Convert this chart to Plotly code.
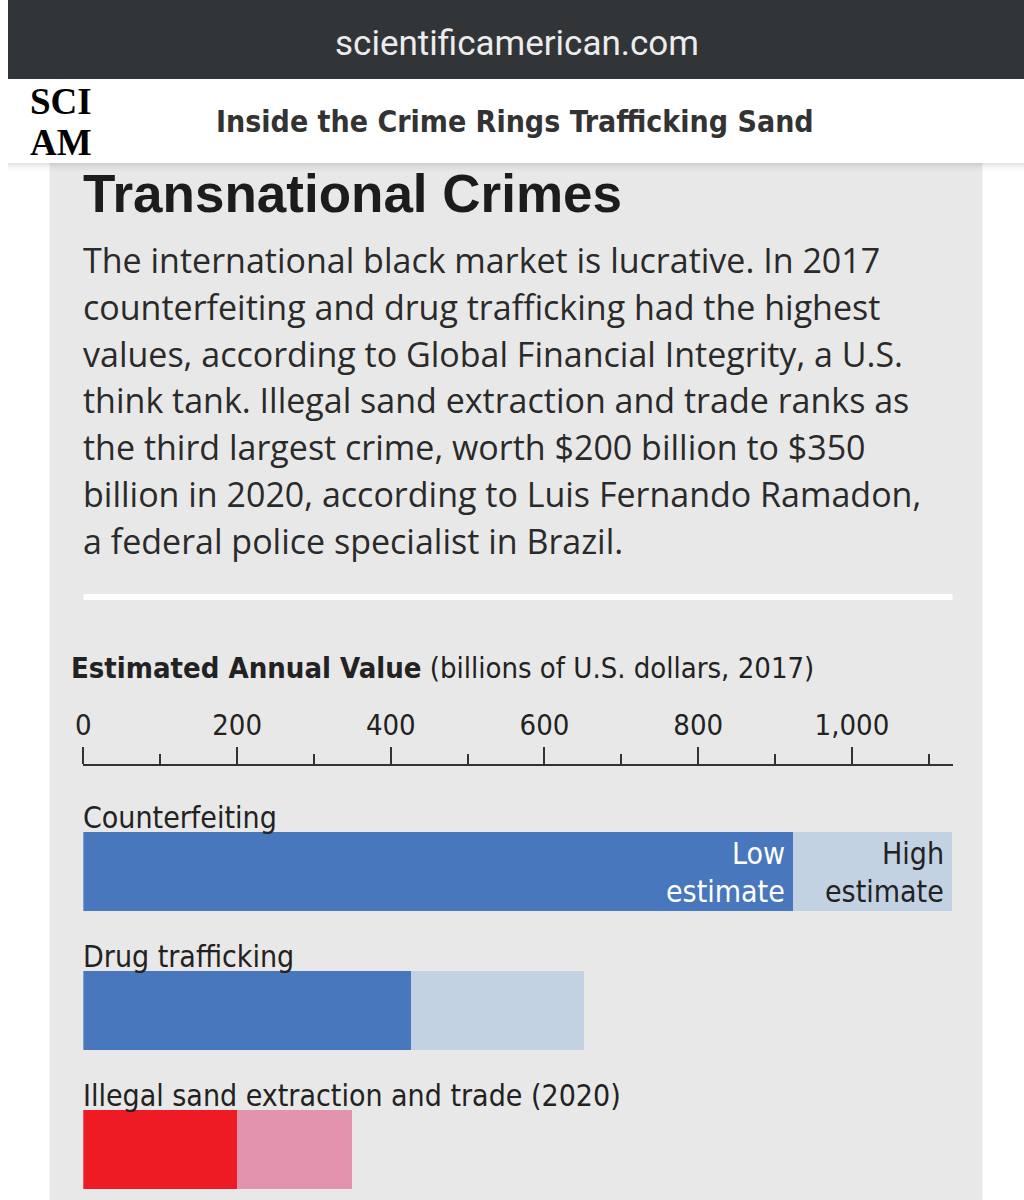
import plotly.graph_objects as go

# ---------------- data ----------------
categories = ["Counterfeiting", "Drug trafficking", "Illegal sand extraction and trade (2020)"]
low_values = [923, 426, 200]
high_values = [1130, 652, 350]
low_colors = ["#4877bd", "#4877bd", "#ee1b25"]
high_colors = ["#c2d2e3", "#c2d2e3", "#e294ae"]
tick_values = [0, 200, 400, 600, 800, 1000]

paragraph_lines = [
    "The international black market is lucrative. In 2017",
    "counterfeiting and drug trafficking had the highest",
    "values, according to Global Financial Integrity, a U.S.",
    "think tank. Illegal sand extraction and trade ranks as",
    "the third largest crime, worth $200 billion to $350",
    "billion in 2020, according to Luis Fernando Ramadon,",
    "a federal police specialist in Brazil.",
]

# ---------------- layout helpers ----------------
W, H = 1024, 1200
def px(x):
    return x / W
def py(y):
    return 1 - y / H

NARROW = "DejaVu Sans Condensed, Liberation Sans Narrow, sans-serif"
TEXT = "#222222"

fig = go.Figure()

# High estimate (full length) then low estimate overlaid
bar_w = 0.568
fig.add_trace(go.Bar(
    y=categories, x=high_values, orientation="h",
    marker=dict(color=high_colors, line=dict(width=0)),
    width=bar_w, hoverinfo="skip", showlegend=False,
))
fig.add_trace(go.Bar(
    y=categories, x=low_values, orientation="h",
    marker=dict(color=low_colors, line=dict(width=0)),
    width=bar_w, hoverinfo="skip", showlegend=False,
))

shapes = []
# top dark browser bar
shapes.append(dict(type="rect", xref="paper", yref="paper", x0=0, x1=1, y0=py(79), y1=1,
                   fillcolor="#323538", line=dict(width=0), layer="below"))
# grey card
shapes.append(dict(type="rect", xref="paper", yref="paper", x0=px(42), x1=px(982), y0=0, y1=py(163),
                   fillcolor="#e8e8e8", line=dict(width=0), layer="below"))
# header shadow
for i, a in enumerate([0.10, 0.06, 0.035, 0.015]):
    shapes.append(dict(type="rect", xref="paper", yref="paper", x0=0, x1=1,
                       y0=py(163 + 2 * (i + 1)), y1=py(163 + 2 * i),
                       fillcolor=f"rgba(0,0,0,{a})", line=dict(width=0), layer="below"))
# white divider
shapes.append(dict(type="rect", xref="paper", yref="paper", x0=px(76), x1=px(952), y0=py(600), y1=py(594),
                   fillcolor="#ffffff", line=dict(width=0), layer="below"))

annotations = []
# browser url
annotations.append(dict(text="scientificamerican.com", xref="paper", yref="paper", x=px(513), y=py(44),
                        xanchor="center", yanchor="middle", showarrow=False,
                        font=dict(family="Roboto, sans-serif", size=35, color="#ececec")))
# logo
annotations.append(dict(text="<b>SCI</b>", xref="paper", yref="paper", x=px(53), y=py(123),
                        xanchor="center", yanchor="bottom", showarrow=False, borderpad=0,
                        font=dict(family="Liberation Serif, serif", size=37, color="#000000")))
annotations.append(dict(text="<b>AM</b>", xref="paper", yref="paper", x=px(53), y=py(121),
                        xanchor="center", yanchor="top", showarrow=False, borderpad=0,
                        font=dict(family="Liberation Serif, serif", size=37, color="#000000")))
# header title
annotations.append(dict(text="<b>Inside the Crime Rings Trafficking Sand</b>", xref="paper", yref="paper",
                        x=px(511), y=py(121), xanchor="center", yanchor="middle", showarrow=False,
                        font=dict(family=NARROW, size=30, color="#333333")))
# chart title
annotations.append(dict(text="<b>Transnational Crimes</b>", xref="paper", yref="paper",
                        x=px(74), y=py(193), xanchor="left", yanchor="middle", showarrow=False,
                        font=dict(family="Liberation Sans, Arial, sans-serif", size=53, color="#1c1c1c")))
# paragraph
for i, line in enumerate(paragraph_lines):
    annotations.append(dict(text=line, xref="paper", yref="paper", x=px(74), y=py(260 + i * 46.8),
                            xanchor="left", yanchor="middle", showarrow=False,
                            font=dict(family="Open Sans, sans-serif", size=34, color="#2a2a2a")))
# axis title
annotations.append(dict(text="<b>Estimated Annual Value</b> (billions of U.S. dollars, 2017)",
                        xref="paper", yref="paper", x=px(61), y=py(668), xanchor="left", yanchor="middle",
                        showarrow=False, font=dict(family=NARROW, size=29, color=TEXT)))
# category labels above bars
bar_px = bar_w * 139
for cat in categories:
    annotations.append(dict(text=cat, xref="x", yref="y", x=0, y=cat, xanchor="left", yanchor="bottom",
                            yshift=bar_px / 2 - 5, xshift=-2, showarrow=False,
                            font=dict(family=NARROW, size=30, color=TEXT)))
# Low / High estimate labels inside first bar
for txt, yshift in [("Low", 18), ("estimate", -20)]:
    annotations.append(dict(text=txt, xref="x", yref="y", x=low_values[0], y=categories[0],
                            xanchor="right", yanchor="middle", xshift=-6, yshift=yshift, showarrow=False,
                            font=dict(family=NARROW, size=30, color="#ffffff")))
for txt, yshift in [("High", 18), ("estimate", -20)]:
    annotations.append(dict(text=txt, xref="x", yref="y", x=high_values[0], y=categories[0],
                            xanchor="right", yanchor="middle", xshift=-6, yshift=yshift, showarrow=False,
                            font=dict(family=NARROW, size=30, color=TEXT)))

fig.update_layout(
    width=W, height=H, autosize=False,
    margin=dict(l=0, r=0, t=0, b=0),
    paper_bgcolor="#ffffff", plot_bgcolor="rgba(0,0,0,0)",
    barmode="overlay", bargap=0,
    showlegend=False,
    shapes=shapes, annotations=annotations,
    xaxis=dict(
        domain=[px(76), px(952)], range=[0, 1131],
        side="top", anchor="free", position=py(765),
        tickvals=tick_values, tickformat=",",
        ticks="outside", ticklen=17, tickwidth=2, tickcolor="#333333",
        showline=True, linecolor="#333333", linewidth=2,
        showgrid=False, zeroline=False,
        tickfont=dict(family=NARROW, size=29, color=TEXT),
        minor=dict(dtick=100, tick0=0, ticks="outside", ticklen=10, tickwidth=2,
                   tickcolor="#333333", showgrid=False),
        fixedrange=True,
    ),
    yaxis=dict(
        domain=[0, py(802)], range=[2.363, -0.5], type="category",
        visible=False, showgrid=False, zeroline=False, fixedrange=True,
    ),
)

fig.write_html(
    "out.html",
    config={"responsive": False, "displayModeBar": False, "staticPlot": True},
    post_script=(
        "document.documentElement.style.margin='0';document.documentElement.style.padding='0';"
        "document.documentElement.style.overflow='hidden';"
        "document.body.style.margin='0';document.body.style.padding='0';"
        "document.body.style.overflow='hidden';"
        "var gd=document.getElementById('{plot_id}');"
        "gd.style.position='fixed';gd.style.left='0px';gd.style.top='0px';"
    ),
)
